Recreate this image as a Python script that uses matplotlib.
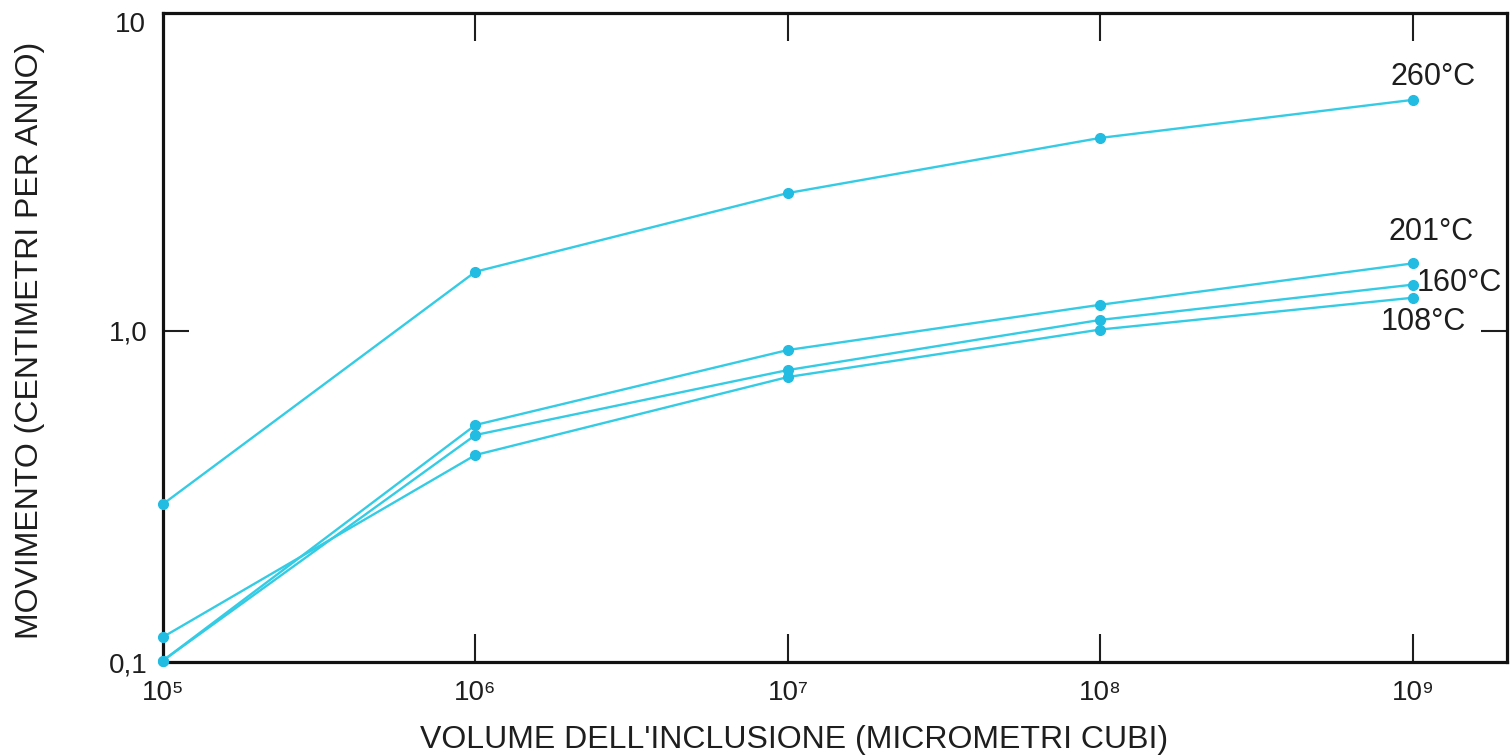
import matplotlib
matplotlib.use("Agg")
import matplotlib.pyplot as plt
from matplotlib.ticker import NullLocator

plt.rcParams['font.family'] = ['Liberation Sans', 'DejaVu Sans']

# ---- data ----
volumes = [1e5, 1e6, 1e7, 1e8, 1e9]
series_labels = ["260°C", "201°C", "160°C", "108°C"]
mov_260 = [0.30, 1.51, 2.61, 3.83, 4.99]
mov_201 = [0.101, 0.52, 0.876, 1.20, 1.60]
mov_160 = [0.101, 0.485, 0.762, 1.08, 1.38]
mov_108 = [0.119, 0.422, 0.726, 1.01, 1.26]
xtick_vals = [1e5, 1e6, 1e7, 1e8, 1e9]
xtick_labels = ["10⁵", "10⁶", "10⁷", "10⁸", "10⁹"]
ytick_vals = [0.1, 1.0]
ytick_labels = ["0,1", "1,0"]
ytop_label = "10"
xlabel = "VOLUME DELL'INCLUSIONE (MICROMETRI CUBI)"
ylabel = "MOVIMENTO (CENTIMETRI PER ANNO)"

W, H = 1512, 756
fig = plt.figure(figsize=(W / 100, H / 100), dpi=100)
L, R, T, B = 163, 1507, 13, 662
ax = fig.add_axes([L / W, 1 - B / H, (R - L) / W, (B - T) / H])
ax.set_xscale('log')
ax.set_yscale('log')
ax.set_xlim(1e5, 2.0e9)
ax.set_ylim(0.1, 9.13)

line_c = '#34cce4'
mark_c = '#22bce2'
for ys in [mov_260, mov_201, mov_160, mov_108]:
    ax.plot(volumes, ys, color=line_c, lw=1.7, marker='o', ms=7,
            mfc=mark_c, mec=mark_c, clip_on=False, zorder=3)

txt_c = '#1e1e1e'
for s in ax.spines.values():
    s.set_linewidth(2.3)
    s.set_color('#111111')

ax.xaxis.set_minor_locator(NullLocator())
ax.yaxis.set_minor_locator(NullLocator())
ax.set_xticks(xtick_vals)
ax.set_xticklabels(xtick_labels)
ax.set_yticks(ytick_vals)
ax.set_yticklabels(ytick_labels)
ax.tick_params(axis='x', direction='in', length=20, width=1.5, pad=13,
               labelsize=20, colors=txt_c, top=True, bottom=True)
ax.tick_params(axis='y', direction='in', length=19, width=1.5, pad=11,
               labelsize=20, colors=txt_c, left=True, right=True)
# hide tick marks at the corners (1e5 / 0.1)
for t in ax.xaxis.get_major_ticks()[:1]:
    t.tick1line.set_visible(False)
    t.tick2line.set_visible(False)
for t in ax.yaxis.get_major_ticks()[:1]:
    t.tick1line.set_visible(False)
    t.tick2line.set_visible(False)

def px(x, y):
    return ((x - L) / (R - L), (B - y) / (B - T))

ax.text(*px(146, 25), ytop_label, transform=ax.transAxes, ha='right',
        va='center', fontsize=20, color=txt_c)

label_pos = [(1390, 77), (1388, 232), (1417, 283), (1381, 322)]
for lab, (xp, yp) in zip(series_labels, label_pos):
    ax.text(*px(xp, yp), lab, transform=ax.transAxes, ha='left', va='center',
            fontsize=22, color=txt_c)

fig.text(794 / W, 1 - 740 / H, xlabel, ha='center', va='center',
         fontsize=23, color=txt_c)
fig.text(30 / W, 1 - 340 / H, ylabel, ha='center', va='center',
         rotation=90, fontsize=23, color=txt_c)

fig.savefig('out.png', dpi=100, facecolor='white')
